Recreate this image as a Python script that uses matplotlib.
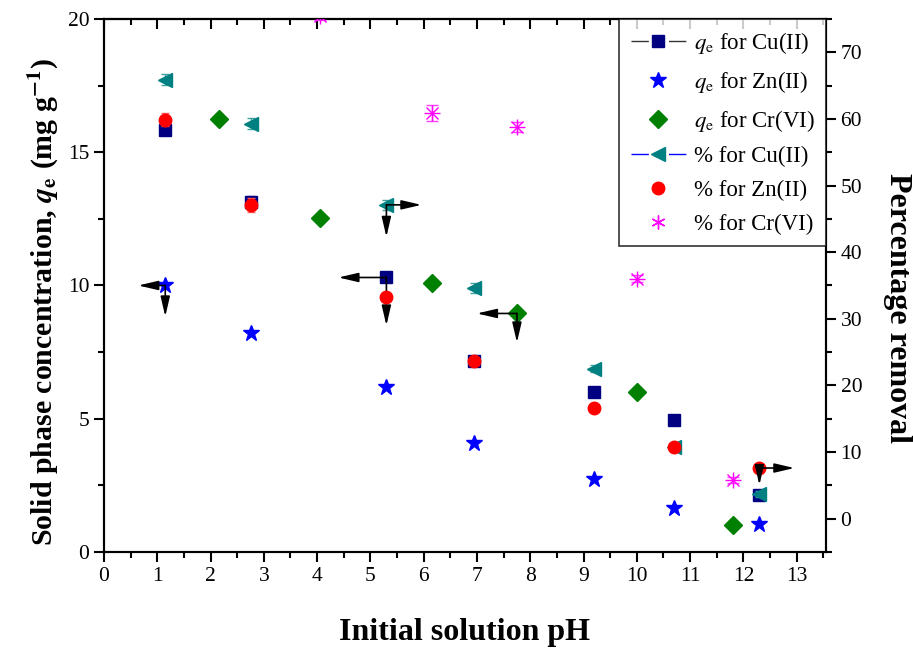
import numpy as np
import matplotlib
matplotlib.use('Agg')
import matplotlib.pyplot as plt
from matplotlib.lines import Line2D

plt.rcParams['font.family'] = ['Liberation Serif', 'DejaVu Serif']
plt.rcParams['mathtext.fontset'] = 'stix'

# pH values
ph_main = [1.15, 2.75, 5.3, 6.95, 9.2, 10.7, 12.3]
ph_cr = [2.15, 4.05, 6.15, 7.75, 10.0, 11.8]

# solid phase concentration qe (mg/g), left axis
qe_cu = [15.85, 13.15, 10.3, 7.15, 6.0, 4.95, 2.15]
qe_zn = [10.0, 8.2, 6.2, 4.1, 2.75, 1.65, 1.05]
qe_cr = [16.25, 12.55, 10.1, 8.95, 6.0, 1.0]

# percentage removal, right axis
pct_cu = [65.9, 59.3, 47.1, 34.6, 22.5, 10.8, 3.7]
pct_zn = [59.9, 47.1, 33.3, 23.7, 16.6, 10.8, 7.6]
pct_cr = [75.4, 60.9, 58.8, 36.0, 5.8]
ph_pct_cr = [4.05, 6.15, 7.75, 10.0, 11.8]

# small error bars on a few points
qe_cu_err = [0.2, 0.2, 0.15, 0.1, 0.1, 0.1, 0.1]
pct_zn_err = [1.0, 1.0, 0.5, 0.5, 0.5, 0.5, 0.5]
pct_cu_err = [0.8, 0.8, 0.8, 0.8, 0.5, 0.5, 0.5]
pct_cr_err = [0.5, 1.2, 0.8, 0.5, 0.5]

fig = plt.figure(figsize=(9.13, 6.52), dpi=100)
ax = fig.add_axes([0.1139, 0.1534, 0.7908, 0.8175])
ax2 = ax.twinx()

ax.errorbar(ph_main, qe_cu, yerr=qe_cu_err, fmt='s', color='#000080', ms=8.5,
            ecolor='#6060c0', elinewidth=1, capsize=3, zorder=3)
ax.plot(ph_main, qe_zn, '*', color='#0000ff', ms=12, zorder=3)
ax.plot(ph_cr, qe_cr, 'D', color='#008000', ms=9, zorder=3)

ax2.errorbar(ph_main, pct_cu, yerr=pct_cu_err, fmt='<', color='#008080', ms=9.5,
             ecolor='#40a0a0', elinewidth=1, capsize=3, zorder=3)
ax2.errorbar(ph_main, pct_zn, yerr=pct_zn_err, fmt='o', color='#ff0000', ms=9,
             ecolor='#ff6060', elinewidth=1, capsize=3, zorder=3)
ax2.errorbar(ph_pct_cr, pct_cr, yerr=pct_cr_err, fmt='x', color='#ff00ff', ms=9,
             ecolor='#ff40ff', elinewidth=1, capsize=4, zorder=3)
ax2.plot(ph_pct_cr, pct_cr, '+', color='#ff00ff', ms=11, zorder=3)


def arrow(a, x, y, dx, dy):
    # tail at the data point, head at offset (pixels)
    a.annotate('', xy=(x, y), xytext=(dx * 0.72, dy * 0.72),
               textcoords='offset points',
               arrowprops=dict(arrowstyle='<|-,head_length=1.2,head_width=0.28',
                               color='black', lw=1.2, shrinkA=0, shrinkB=0),
               zorder=4)


arrow(ax, ph_main[0], qe_zn[0], -27, 0)
arrow(ax, ph_main[0], qe_zn[0], 0, -31)
arrow(ax2, ph_main[2], pct_cu[2], 35, 0)
arrow(ax2, ph_main[2], pct_cu[2], 0, -32)
arrow(ax, ph_main[2], qe_cu[2], -48, 0)
arrow(ax, ph_main[2], qe_cu[2], 0, -48)
arrow(ax, ph_cr[3], qe_cr[3], -40, 0)
arrow(ax, ph_cr[3], qe_cr[3], 0, -29)
arrow(ax2, ph_main[6], pct_zn[6], 35, 0)
arrow(ax2, ph_main[6], pct_zn[6], 0, -17)

ax.set_xlim(0, 13.55)
ax.set_ylim(0, 20)
ax2.set_ylim(-5, 75)

ax.set_xticks(np.arange(0, 14, 1))
ax.set_xticks(np.arange(0.5, 13.6, 0.5), minor=True)
ax.set_yticks(np.arange(0, 21, 5))
ax.set_yticks(np.arange(2.5, 20, 2.5), minor=True)
ax2.set_yticks(np.arange(0, 71, 10))
ax2.set_yticks(np.arange(-5, 76, 5), minor=True)

for a in (ax, ax2):
    for s in a.spines.values():
        s.set_linewidth(1.5)

ax.tick_params(axis='both', which='major', direction='out', length=7, width=1.5,
               labelsize=15.5, right=False)
ax.tick_params(axis='both', which='minor', direction='out', length=4, width=1.5,
               right=False)
ax2.tick_params(axis='y', which='major', direction='out', length=7, width=1.5,
                labelsize=15.5)
ax2.tick_params(axis='y', which='minor', direction='out', length=4, width=1.5)

top = ax.secondary_xaxis('top')
top.set_xticks(np.arange(0, 14, 1))
top.set_xticks(np.arange(0.5, 13.6, 0.5), minor=True)
top.tick_params(which='major', direction='in', length=7, width=1.5, labeltop=False)
top.tick_params(which='minor', direction='in', length=4, width=1.5)
top.spines['top'].set_linewidth(1.5)

ax.set_xlabel('Initial solution pH', fontsize=23, fontweight='bold', labelpad=23)
ax.set_ylabel(r'Solid phase concentration, $\mathbfit{q}_\mathbf{e}$ (mg g$^{\mathbf{-1}}$)',
              fontsize=21.5, fontweight='bold')
ax.yaxis.set_label_coords(-0.06, 0.469)
ax2.set_ylabel('Percentage removal', fontsize=23, fontweight='bold',
               rotation=270, va='center')
ax2.yaxis.set_label_coords(1.099, 0.458)

gap = (12.5, 14.5)
handles = [
    Line2D([], [], color='#333333', lw=1, dashes=gap, marker='s',
           mfc='#000080', mec='#000080', ms=8),
    Line2D([], [], ls='none', marker='*', color='#0000ff', ms=12),
    Line2D([], [], ls='none', marker='D', color='#008000', ms=9),
    Line2D([], [], color='#0000ff', lw=1, dashes=gap, marker='<',
           mfc='#008080', mec='#008080', ms=10),
    Line2D([], [], ls='none', marker='o', color='#ff0000', ms=9),
    Line2D([], [], ls='none', marker=(6, 2, 0), color='#ff00ff', ms=10, mew=1),
]
labels = [r'$q_\mathrm{e}$ for Cu(II)', r'$q_\mathrm{e}$ for Zn(II)',
          r'$q_\mathrm{e}$ for Cr(VI)', '% for Cu(II)', '% for Zn(II)',
          '% for Cr(VI)']
leg = ax2.legend(handles, labels, loc='upper right', fontsize=16.5, frameon=True,
                 fancybox=False, edgecolor='black', borderaxespad=0,
                 handlelength=2.4, handletextpad=0.35, labelspacing=0.55,
                 borderpad=0.5)
leg.get_frame().set_linewidth(1.2)

fig.savefig('out.png', dpi=100)
